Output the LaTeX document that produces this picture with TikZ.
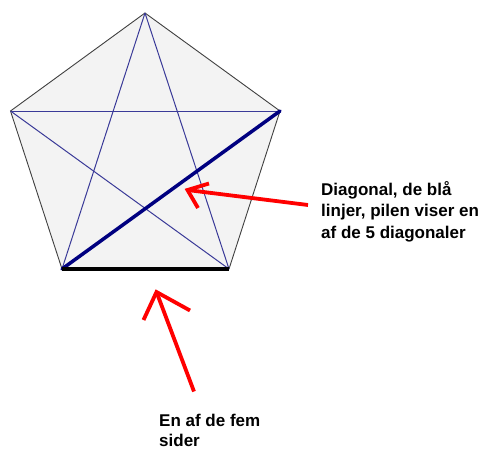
\documentclass[tikz,border=0pt]{standalone}
\usepackage{fontspec}
\setmainfont{Liberation Sans}
\begin{document}
\begin{tikzpicture}[x=1pt,y=-1pt,
  side/.style={draw=black!75,line width=0.9pt},
  diag/.style={draw=diagblue,line width=1pt},
  thickdiag/.style={draw=navyblue,line width=3.5pt,line cap=round},
  thickside/.style={draw=black,line width=3.5pt},
  redarrow/.style={draw=red,line width=3.8pt,line join=miter},
  lbl/.style={anchor=base west,inner sep=0pt,font=\bfseries\fontsize{17}{21.7}\selectfont}]
\definecolor{diagblue}{HTML}{3A3A98}
\definecolor{navyblue}{HTML}{000080}
\definecolor{pentfill}{HTML}{F3F3F3}
\useasboundingbox (0,0) rectangle (484,450);
% vertices
\coordinate (A) at (145,13);
\coordinate (B) at (280,111);
\coordinate (C) at (229,269);
\coordinate (D) at (62,269);
\coordinate (E) at (10.5,111);
\fill[pentfill] (A) -- (B) -- (C) -- (D) -- (E) -- cycle;
\draw[side] (A) -- (B) -- (C) -- (D) -- (E) -- cycle;
% diagonals
\draw[diag] (A) -- (C);
\draw[diag] (A) -- (D);
\draw[diag] (E) -- (B);
\draw[diag] (E) -- (C);
\draw[thickdiag] (D) -- (B);
\draw[thickside] (D) -- (C);
% arrow 1
\coordinate (t1) at (187.5,190);
\coordinate (s1) at (308,205);
\coordinate (b1a) at (209,183.5);
\coordinate (b1b) at (198,208);
\draw[redarrow] (s1) -- (t1);
\draw[redarrow] (b1a) -- (t1) -- (b1b);
% arrow 2
\coordinate (t2) at (156.5,292);
\coordinate (s2) at (194,391.5);
\coordinate (b2a) at (143.5,320);
\coordinate (b2b) at (190,310.5);
\draw[redarrow] (s2) -- (t2);
\draw[redarrow] (b2a) -- (t2) -- (b2b);
% labels
\node[lbl] (l1) at (321,195) {Diagonal, de blå};
\node[lbl] (l2) at (321,216.7) {linjer, pilen viser en};
\node[lbl] (l3) at (321,238.4) {af de 5 diagonaler};
\node[lbl] (m1) at (159,426.7) {En af de fem};
\node[lbl] (m2) at (159,446.5) {sider};
\end{tikzpicture}
\end{document}
